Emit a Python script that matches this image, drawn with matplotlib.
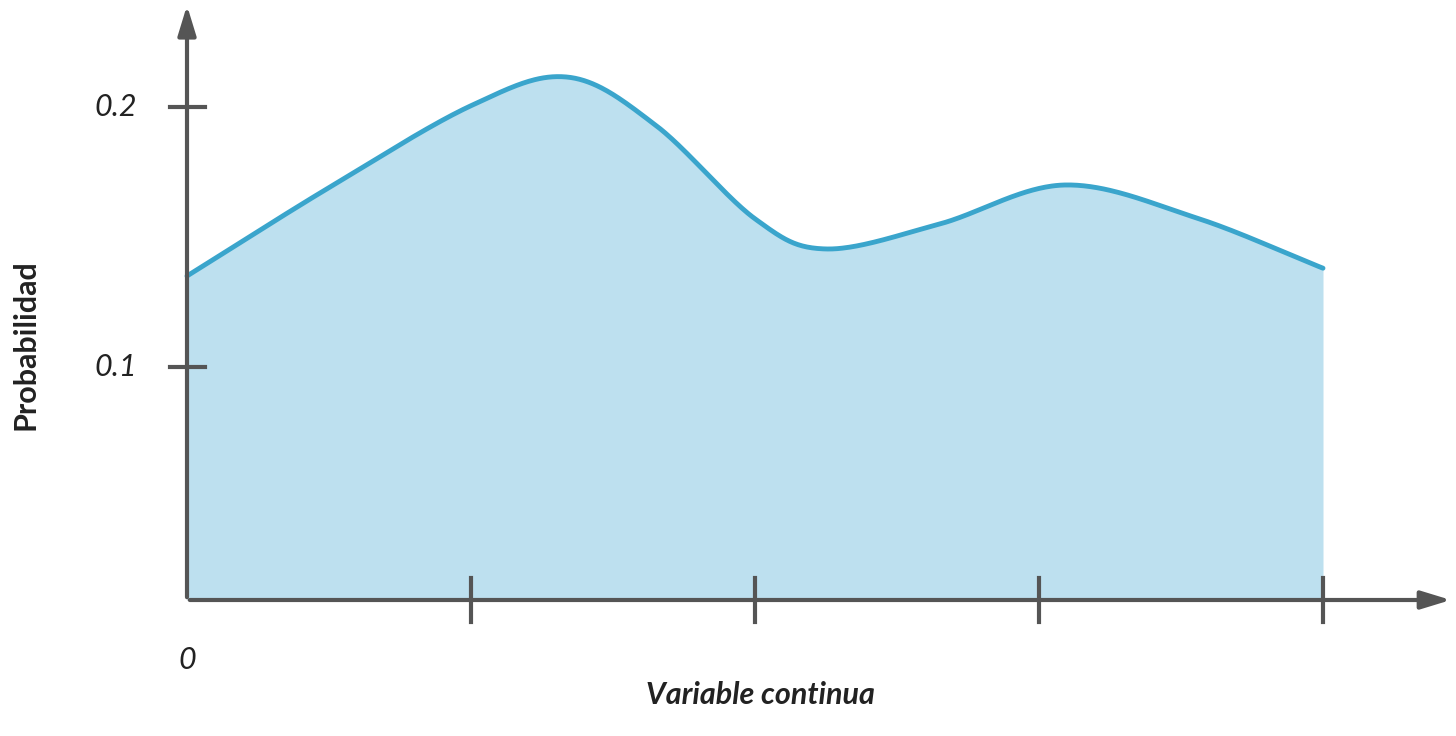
import numpy as np
import matplotlib.pyplot as plt

# curve points (x in tick units, y probability)
curve_x = [0.0, 0.5, 1.0, 1.34, 1.65, 2.0, 2.25, 2.65, 3.09, 3.55, 4.0]
curve_y = [0.135, 0.169, 0.2005, 0.2115, 0.193, 0.157, 0.1454, 0.155, 0.170, 0.1575, 0.138]
x_ticks = [0, 1, 2, 3, 4]
y_ticks = [0.1, 0.2]
y_labels = ['0.1', '0.2']


def catmull_rom(xs, ys, n=60):
    # centripetal-free uniform Catmull-Rom through the read points
    px = np.array(xs, float)
    py = np.array(ys, float)
    px = np.concatenate([[2 * px[0] - px[1]], px, [2 * px[-1] - px[-2]]])
    py = np.concatenate([[2 * py[0] - py[1]], py, [2 * py[-1] - py[-2]]])
    outx, outy = [], []
    for i in range(1, len(px) - 2):
        t = np.linspace(0, 1, n, endpoint=False)
        for arr, out in ((px, outx), (py, outy)):
            p0, p1, p2, p3 = arr[i - 1:i + 3]
            out.extend(0.5 * (2 * p1 + (-p0 + p2) * t + (2 * p0 - 5 * p1 + 4 * p2 - p3) * t ** 2
                              + (-p0 + 3 * p1 - 3 * p2 + p3) * t ** 3))
    outx.append(xs[-1])
    outy.append(ys[-1])
    return np.array(outx), np.array(outy)


plt.rcParams['font.family'] = ['Lato', 'DejaVu Sans']
fig = plt.figure(figsize=(14.56, 7.36), dpi=100)
ax = fig.add_axes([0, 0, 1, 1])
ax.set_xlim(-187 / 284, (1456 - 187) / 284)
ax.set_ylim((627 - 736) / 2600, 627 / 2600)
ax.axis('off')

axis_col = '#555555'
y0 = (627 - 600) / 2600
sx, sy = catmull_rom(curve_x, curve_y)
ax.fill_between(sx, y0, sy, color='#bde0ef', lw=0)
ax.plot(sx, sy, color='#3aa5cc', lw=3.5, solid_capstyle='round')

ax.annotate('', xy=(0, 627 / 2600 - 0.001), xytext=(0, y0),
            arrowprops=dict(arrowstyle='-|>,head_length=1.8,head_width=0.55', color=axis_col, lw=3))
ax.annotate('', xy=(4.46, y0), xytext=(0, y0),
            arrowprops=dict(arrowstyle='-|>,head_length=1.8,head_width=0.55', color=axis_col, lw=3))

for t in x_ticks[1:]:
    ax.plot([t, t], [y0 + 22 / 2600, y0 - 22 / 2600], color=axis_col, lw=3)
for t, lab in zip(y_ticks, y_labels):
    ax.plot([-17 / 284, 18 / 284], [t, t], color=axis_col, lw=3)
    ax.text(-50 / 284, t, lab, ha='right', va='center', fontsize=22, style='italic', color='#222222')

ax.text(0, (627 - 660) / 2600, '0', ha='center', va='center', fontsize=22, style='italic', color='#222222')
ax.text((760 - 187) / 284, (627 - 695) / 2600, 'Variable continua', ha='center', va='center',
        fontsize=22, style='italic', fontweight='bold', color='#222222')
ax.text(-162 / 284, (627 - 345) / 2600, 'Probabilidad', ha='center', va='center', rotation=90,
        fontsize=22, fontweight='bold', color='#222222')

fig.savefig('out.png', dpi=100, facecolor='white')
